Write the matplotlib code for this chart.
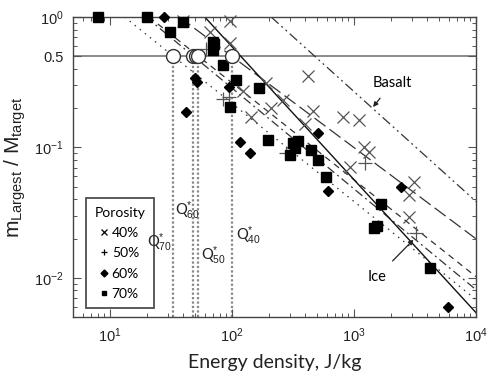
import numpy as np
import matplotlib
matplotlib.use("Agg")
import matplotlib.pyplot as plt
from matplotlib.lines import Line2D

plt.rcParams['mathtext.fontset'] = 'custom'
plt.rcParams['mathtext.rm'] = 'Liberation Sans'
plt.rcParams['mathtext.it'] = 'Liberation Sans:italic'
plt.rcParams['mathtext.bf'] = 'Liberation Sans:bold'
plt.rcParams['font.family'] = ['Liberation Sans', 'DejaVu Sans']

# ---------------- data ----------------
x40 = [40, 66, 96, 96, 123, 144, 210, 191, 264, 417, 458, 401, 811, 1100,
       1210, 1330, 927, 3080, 2800, 2850]
y40 = [0.93, 0.77, 0.93, 0.63, 0.27, 0.17, 0.20, 0.31, 0.23, 0.35, 0.19, 0.15,
       0.17, 0.163, 0.10, 0.092, 0.071, 0.054, 0.043, 0.029]

x50 = [62, 84, 95, 279, 1230, 3250]
y50 = [0.57, 0.235, 0.244, 0.091, 0.076, 0.022]

x60 = [28, 49.6, 51.5, 42, 94.5, 116, 141, 504, 610, 2440, 5880]
y60 = [1.0, 0.34, 0.32, 0.187, 0.29, 0.110, 0.091, 0.129, 0.046, 0.050, 0.006]

x70 = [8, 20, 40, 31, 70, 72, 70, 84, 108, 96, 167, 199, 319, 351, 332, 301,
       441, 504, 587, 1670, 1460, 1550, 4170]
y70 = [1.0, 1.0, 0.92, 0.77, 0.64, 0.62, 0.56, 0.43, 0.33, 0.205, 0.285, 0.114,
       0.108, 0.112, 0.099, 0.088, 0.096, 0.080, 0.059, 0.037, 0.0242, 0.025,
       0.0119]

# Q* values (energy density where m/M = 0.5)
q_labels = ['70', '60', '50', '40']
q_values = [33.2, 48.5, 53.3, 100]
circle_x = [33.2, 48.5, 51, 53.3, 100]

# fitted power laws: pass through (Q*, 0.5) and reach y_end at x = 1e4
fit_end = {'40': 0.0199, '50': 0.0102, '60': 0.0081, '70': 0.0068}
ice_pts = ([60, 1e4], [1.0, 0.0054])
basalt_pts = ([210, 1e4], [1.0, 0.0385])

# ---------------- figure ----------------
fig = plt.figure(figsize=(4.88, 3.83), dpi=100)
ax = fig.add_axes([0.1496, 0.1723, 0.8258, 0.7833])
ax.set_xscale('log')
ax.set_yscale('log')
ax.set_xlim(5, 1e4)
ax.set_ylim(0.005, 1.0)

line_col = '#333333'
styles = {'40': (0, (11, 4)), '50': (0, (5, 4)), '60': (0, (7, 3, 1.5, 3)),
          '70': (0, (1.2, 4))}
for lab, q in zip(q_labels, q_values):
    yend = fit_end[lab]
    b = np.log(yend / 0.5) / np.log(1e4 / q)
    x0 = q * 2 ** (1 / b)
    xs = np.array([x0, 1e4])
    ys = 0.5 * (xs / q) ** b
    ax.plot(xs, ys, color=line_col, lw=0.9, linestyle=styles[lab], zorder=2)

ax.plot(ice_pts[0], ice_pts[1], color='#111111', lw=1.0, zorder=2)
ax.plot(basalt_pts[0], basalt_pts[1], color=line_col, lw=0.9,
        linestyle=(0, (8, 3, 1.5, 3, 1.5, 3)), zorder=2)

# horizontal 0.5 line
ax.axhline(0.5, color='#8a8a8a', lw=1.4, zorder=1)

# vertical dotted Q* lines
for q in q_values:
    ax.plot([q, q], [0.005, 0.5], color='#888888', lw=1.6,
            linestyle=(0, (1, 1)), zorder=1)

# data markers
gray = '#555555'
ax.plot(x40, y40, 'x', color=gray, ms=9, mew=0.9, linestyle='none', zorder=4,
        clip_on=False)
ax.plot(x50, y50, '+', color=gray, ms=10, mew=0.9, linestyle='none', zorder=4,
        clip_on=False)
ax.plot(x60, y60, 'D', color='black', ms=4.8, linestyle='none', zorder=4,
        clip_on=False)
ax.plot(x70, y70, 's', color='black', ms=6.5, linestyle='none', zorder=4,
        clip_on=False)
ax.plot(circle_x, [0.5] * len(circle_x), 'o', mfc='white', mec='#333333',
        ms=10, mew=1.0, linestyle='none', zorder=5)

# Q* annotations
q_text_pos = {'70': (25.5, 0.0185), '60': (43.3, 0.0326),
              '50': (71, 0.0147), '40': (135.5, 0.021)}
for lab in q_labels:
    xx, yy = q_text_pos[lab]
    ax.text(xx, yy, 'Q' + r'$^{*}_{%s}$' % lab, fontsize=10.5,
            family='Lato', ha='center', va='center', color='#222222', zorder=8)

# Ice / Basalt annotations
ax.annotate('Ice', xy=(3077, 0.0196), xytext=(1549, 0.0102), fontsize=10.5,
            family='Lato', ha='center', va='center',
            arrowprops=dict(arrowstyle='-|>', color='#222222', lw=0.9,
                            mutation_scale=7, shrinkA=6, shrinkB=0))
ax.annotate('Basalt', xy=(1435, 0.204), xytext=(2060, 0.312), fontsize=10.5,
            family='Lato', ha='center', va='center',
            arrowprops=dict(arrowstyle='-|>', color='#222222', lw=0.9,
                            mutation_scale=7, shrinkA=5, shrinkB=0))

# ticks
ax.set_xticks([10, 100, 1000, 10000])
ax.set_xticklabels([r'$10^{1}$', r'$10^{2}$', r'$10^{3}$', r'$10^{4}$'])
ax.set_yticks([0.01, 0.1, 0.5, 1.0])
ax.set_yticklabels([r'$10^{-2}$', r'$10^{-1}$', '0.5', r'$10^{0}$'])
ax.tick_params(which='both', direction='in', top=True, right=True,
               color='#555555', labelsize=10.5, labelcolor='#222222')
ax.tick_params(which='major', length=6, width=0.8, pad=7)
ax.tick_params(which='minor', length=3, width=0.7)
for sp in ax.spines.values():
    sp.set_linewidth(1.0)
    sp.set_color('#444444')

ax.set_xlabel('Energy density, J/kg', fontsize=14, family='Lato',
              color='#222222', labelpad=6)
ax.set_ylabel(r'm$_{\mathrm{Largest}}$ / M$_{\mathrm{target}}$', fontsize=15,
              color='#222222', labelpad=4)

# legend
handles = [
    Line2D([], [], marker='x', color='black', ms=4, mew=0.9, linestyle='none'),
    Line2D([], [], marker='+', color='black', ms=5, mew=0.9, linestyle='none'),
    Line2D([], [], marker='D', color='black', ms=3.5, linestyle='none'),
    Line2D([], [], marker='s', color='black', ms=3.5, linestyle='none'),
]
leg = ax.legend(handles, ['40%', '50%', '60%', '70%'], title='Porosity',
                loc='upper left', bbox_to_anchor=(0.022, 0.41),
                frameon=True, fancybox=False, handlelength=0.5,
                handletextpad=0.3, borderpad=0.6, labelspacing=0.6,
                borderaxespad=0.3,
                prop={'family': 'Lato', 'size': 10},
                title_fontproperties={'family': 'Lato', 'size': 10})
leg.get_frame().set_edgecolor('#222222')
leg.get_frame().set_linewidth(1.3)
leg.set_zorder(7)

fig.savefig('out.png', dpi=100)
